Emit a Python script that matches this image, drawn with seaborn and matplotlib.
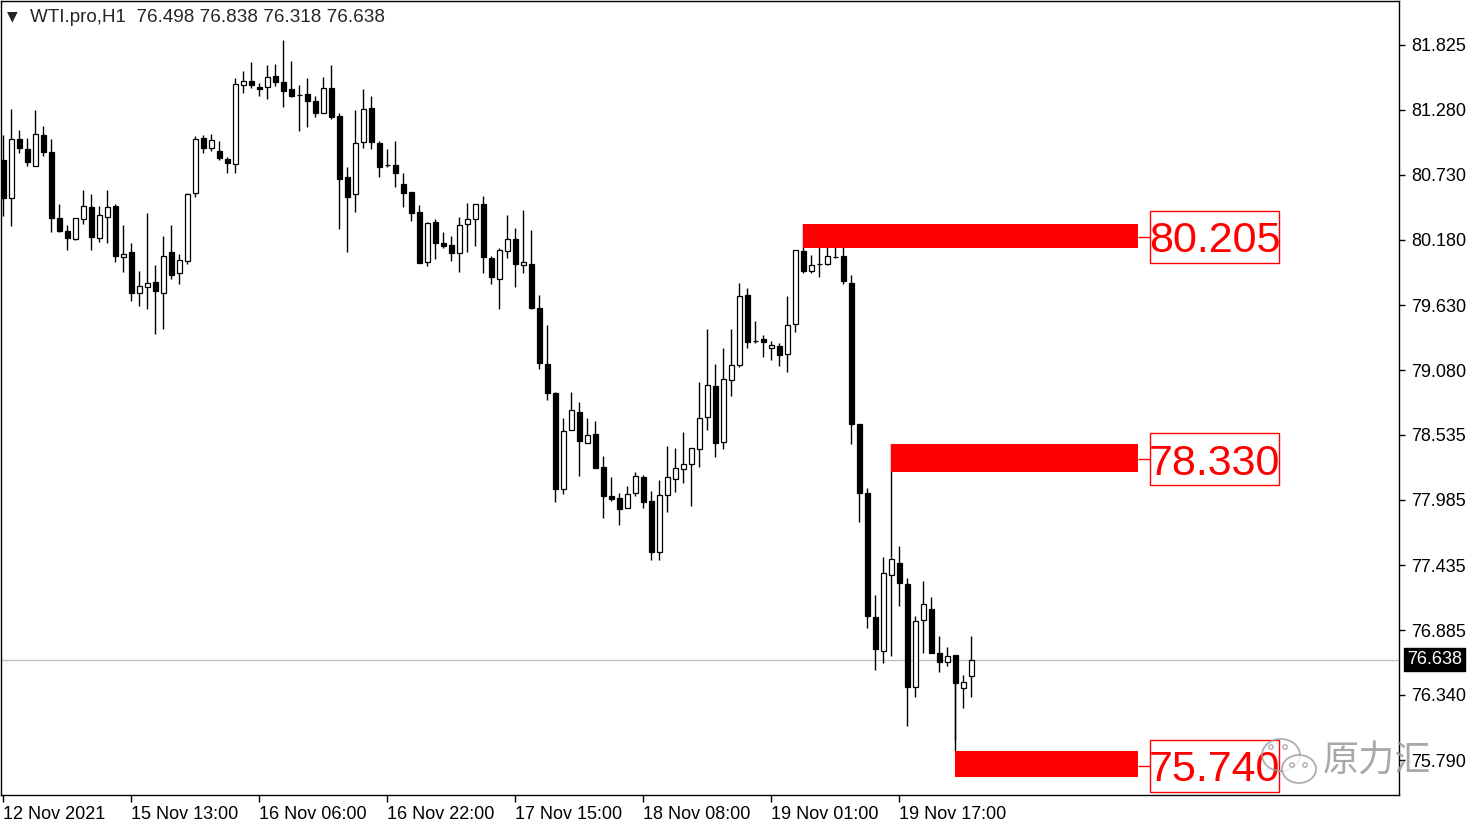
import numpy as np
import pandas as pd
import matplotlib
matplotlib.use("Agg")
import matplotlib.pyplot as plt
import matplotlib.patches as mpatches
from matplotlib.transforms import IdentityTransform
import seaborn as sns

# ---------------- data ----------------
opens = [80.854, 80.531, 81.032, 80.947, 80.806, 81.065, 80.922, 80.362, 80.255, 80.191,
         80.354, 80.458, 80.199, 80.376, 80.466, 80.038, 80.080, 79.729, 79.780, 79.822,
         79.734, 80.080, 79.898, 80.004, 80.573, 81.037, 80.953, 80.930, 80.863, 80.818,
         81.485, 81.519, 81.468, 81.468, 81.563, 81.513, 81.451, 81.406, 81.411, 81.355,
         81.249, 81.460, 81.226, 80.708, 80.565, 81.004, 81.291, 80.995, 80.812, 80.810,
         80.652, 80.582, 80.413, 79.991, 80.329, 80.154, 80.137, 80.072, 80.312, 80.354,
         80.480, 80.025, 79.847, 80.089, 80.191, 79.966, 79.974, 79.603, 79.133, 78.890,
         78.075, 78.576, 78.727, 78.463, 78.539, 78.263, 78.019, 77.999, 77.915, 78.041,
         78.176, 77.976, 77.543, 78.027, 78.159, 78.244, 78.286, 78.412, 78.683, 78.947,
         78.472, 78.995, 79.124, 79.712, 79.327, 79.344, 79.265, 79.284, 79.217, 79.468,
         80.086, 79.920, 79.979, 79.974, 80.033, 80.044, 79.819, 78.624, 78.041, 76.995,
         76.713, 77.351, 77.455, 77.276, 76.404, 76.972, 77.062, 76.691, 76.615, 76.676,
         76.395, 76.498]
highs = [81.065, 81.285, 81.108, 81.043, 81.276, 81.141, 81.032, 80.483, 80.306, 80.362,
         80.601, 80.567, 80.466, 80.601, 80.483, 80.306, 80.157, 79.920, 80.410, 79.968,
         80.213, 80.306, 80.061, 80.578, 81.059, 81.065, 81.071, 81.015, 80.882, 81.549,
         81.606, 81.679, 81.502, 81.656, 81.665, 81.867, 81.690, 81.487, 81.544, 81.395,
         81.552, 81.656, 81.249, 80.793, 81.276, 81.451, 81.395, 81.015, 80.945, 81.015,
         80.742, 80.582, 80.475, 80.329, 80.356, 80.244, 80.213, 80.376, 80.489, 80.480,
         80.551, 80.044, 80.114, 80.390, 80.278, 80.432, 80.264, 79.715, 79.462, 78.899,
         78.674, 78.899, 78.814, 78.679, 78.651, 78.356, 78.181, 78.041, 78.105, 78.224,
         78.196, 78.061, 78.154, 78.440, 78.421, 78.561, 78.421, 78.978, 79.428, 79.133,
         79.270, 79.428, 79.819, 79.772, 79.495, 79.377, 79.327, 79.312, 79.707, 80.095,
         80.086, 80.053, 80.165, 80.306, 80.264, 80.278, 79.884, 78.624, 78.083, 77.183,
         77.501, 77.500, 77.596, 77.324, 77.006, 77.304, 77.163, 76.837, 76.741, 76.676,
         76.508, 76.838]
lows = [80.384, 80.300, 80.911, 80.806, 80.804, 80.891, 80.249, 80.249, 80.095, 80.179,
        80.314, 80.095, 80.165, 80.151, 79.991, 79.912, 79.667, 79.622, 79.594, 79.383,
        79.425, 79.847, 79.805, 79.974, 80.540, 80.916, 80.930, 80.854, 80.742, 80.742,
        81.417, 81.465, 81.397, 81.369, 81.481, 81.304, 81.389, 81.102, 81.135, 81.220,
        81.249, 81.198, 80.269, 80.080, 80.418, 80.953, 80.945, 80.708, 80.793, 80.624,
        80.460, 80.342, 79.982, 79.962, 80.019, 80.109, 80.002, 79.912, 80.080, 80.131,
        79.898, 79.805, 79.594, 80.025, 79.780, 79.898, 79.594, 79.088, 78.829, 77.970,
        78.035, 78.576, 78.187, 78.463, 78.252, 77.830, 77.976, 77.774, 77.915, 78.018,
        77.915, 77.478, 77.478, 77.886, 78.055, 78.131, 77.937, 78.266, 78.576, 78.350,
        78.415, 78.865, 79.110, 79.270, 79.312, 79.194, 79.166, 79.118, 79.068, 79.405,
        79.898, 79.898, 79.869, 79.968, 80.025, 79.805, 78.455, 77.802, 76.907, 76.550,
        76.612, 76.668, 77.093, 76.080, 76.319, 76.691, 76.691, 76.536, 76.586, 75.959,
        76.227, 76.318]
closes = [80.536, 81.029, 80.953, 80.835, 81.071, 80.924, 80.367, 80.255, 80.199, 80.362,
          80.466, 80.207, 80.390, 80.458, 80.047, 80.061, 79.734, 79.791, 79.814, 79.751,
          80.041, 79.884, 80.010, 80.567, 81.032, 80.953, 81.023, 80.869, 80.832, 81.493,
          81.519, 81.485, 81.456, 81.552, 81.515, 81.439, 81.397, 81.402, 81.355, 81.254,
          81.460, 81.215, 80.691, 80.540, 80.995, 81.282, 81.004, 80.798, 80.808, 80.742,
          80.573, 80.404, 79.988, 80.320, 80.156, 80.131, 80.072, 80.306, 80.356, 80.480,
          80.033, 79.864, 80.095, 80.185, 79.974, 79.991, 79.603, 79.138, 78.885, 78.078,
          78.567, 78.744, 78.485, 78.531, 78.257, 78.019, 77.990, 77.906, 78.033, 78.187,
          77.970, 77.543, 78.027, 78.181, 78.252, 78.286, 78.421, 78.674, 78.955, 78.463,
          79.003, 79.124, 79.704, 79.321, 79.327, 79.321, 79.293, 79.209, 79.462, 80.095,
          79.918, 79.968, 79.979, 80.044, 80.033, 79.833, 78.624, 78.046, 77.008, 76.725,
          77.366, 77.484, 77.281, 76.409, 76.963, 77.104, 76.696, 76.615, 76.671, 76.443,
          76.451, 76.638]

y_ticks = [81.825, 81.280, 80.730, 80.180, 79.630, 79.080, 78.535, 77.985, 77.435,
           76.885, 76.340, 75.790]
x_tick_bars = [0, 16, 32, 48, 64, 80, 96, 112]
x_tick_labels = ["12 Nov 2021", "15 Nov 13:00", "16 Nov 06:00", "16 Nov 22:00",
                 "17 Nov 15:00", "18 Nov 08:00", "19 Nov 01:00", "19 Nov 17:00"]

zone_levels = [80.205, 78.330, 75.740]
zone_start_bars = [100, 111, 119]
zone_tops = [80.315, 78.457, 75.866]
zone_bottoms = [80.115, 78.223, 75.647]
zone_anchor = [80.086, 77.500, 76.443]   # candle end of each connector line

last_price = 76.638
header = "WTI.pro,H1  76.498 76.838 76.318 76.638"

df = pd.DataFrame({"open": opens, "high": highs, "low": lows, "close": closes})
df["bar"] = np.arange(len(df))
df["bull"] = df["close"] >= df["open"]

# ---------------- style ----------------
sns.set_style("white")
plt.rcParams["font.family"] = ["Liberation Sans", "DejaVu Sans"]

W, H = 1481, 827
fig = plt.figure(figsize=(W / 100, H / 100), dpi=100)
ax = fig.add_axes([1 / W, 32 / H, 1398 / W, 794 / H])

ax.set_xlim(-0.31, 174.44)
ax.set_ylim(75.495, 82.196)

# current price line
ax.axhline(last_price, color="#c0c0c0", lw=1, zorder=1)

# wicks
ax.vlines(df["bar"], df["low"], df["high"], color="black", lw=1.0, zorder=2)
# bodies
body_colors = np.where(df["bull"], "white", "black")
ax.bar(df["bar"], df["close"] - df["open"], bottom=df["open"], width=0.55,
       color=body_colors, edgecolor="black", linewidth=0.9, zorder=3)

# zones
x_right = (1138 - 3.5) / 8
lab_x0 = (1150 - 3.5) / 8
lab_x1 = (1279 - 3.5) / 8
px = 1 / 118.48
for lvl, sb, top, bot, anc in zip(zone_levels, zone_start_bars, zone_tops,
                                  zone_bottoms, zone_anchor):
    ax.add_patch(mpatches.Rectangle((sb, bot), x_right - sb, top - bot,
                                    facecolor="#ff0000", edgecolor="none", zorder=4))
    ax.vlines(sb, min(anc, top), max(anc, top), color="black", lw=1.0, zorder=2.5)
    ax.hlines(lvl, x_right, lab_x0, color="#ff0000", lw=1.0, zorder=4)
    ax.add_patch(mpatches.Rectangle((lab_x0, lvl - 26 * px), lab_x1 - lab_x0, 52 * px,
                                    facecolor="white", edgecolor="#ff0000", lw=1.0,
                                    zorder=5))
    ax.text((lab_x0 + lab_x1) / 2, lvl, f"{lvl:.3f}", color="#ff0000", fontsize=31,
            ha="center", va="center_baseline", zorder=6)

# axes look
for s in ax.spines.values():
    s.set_visible(True)
    s.set_color("black")
    s.set_linewidth(1.0)
ax.yaxis.tick_right()
ax.set_yticks(y_ticks)
ax.set_yticklabels([f"{v:.3f}" for v in y_ticks])
ax.set_xticks(x_tick_bars)
ax.set_xticklabels(x_tick_labels)
for lbl in ax.get_xticklabels():
    lbl.set_ha("left")
ax.tick_params(axis="y", which="both", direction="out", length=4, width=1,
               colors="black", labelsize=13, pad=5, right=True, left=False)
ax.tick_params(axis="x", which="both", direction="out", length=5, width=1,
               colors="black", labelsize=13, pad=3, bottom=True)
ax.grid(False)

# last price tag
ax.text(1.0 + 8 / 1398, last_price, f"{last_price:.3f}", transform=ax.get_yaxis_transform(),
        color="white", fontsize=13, ha="left", va="center",
        bbox=dict(boxstyle="square,pad=0.18", facecolor="black", edgecolor="black"),
        zorder=10, clip_on=False)

# header
fig.text(7 / W, 1 - 16 / H, "\u25BC", fontsize=10, ha="left", va="center",
         family=["DejaVu Sans"])
fig.text(30 / W, 1 - 17 / H, header, fontsize=13.6, ha="left", va="center")

# watermark (WeChat-like icon + text)
def dy(y):
    return H - y
wm = "#9a9a9a"
idt = IdentityTransform()
fig.add_artist(mpatches.Ellipse((1281, dy(755)), 38, 32, transform=idt, fill=False,
                                edgecolor=wm, lw=1.3, alpha=0.8))
fig.add_artist(mpatches.Ellipse((1299, dy(769)), 34, 28, transform=idt, facecolor="white",
                                edgecolor=wm, lw=1.3, alpha=0.8))
for (ex, ey) in [(1271, 747), (1285, 747), (1292, 765), (1305, 765)]:
    fig.add_artist(mpatches.Circle((ex, dy(ey)), 2.2, transform=idt, fill=False,
                                   edgecolor=wm, lw=1.0, alpha=0.8))
fig.text(1323 / W, 1 - 762 / H, "原力汇", fontsize=26, color=wm, alpha=0.85,
         ha="left", va="center", family=["Noto Sans CJK SC"])

fig.savefig("out.png", dpi=100, facecolor="white")
